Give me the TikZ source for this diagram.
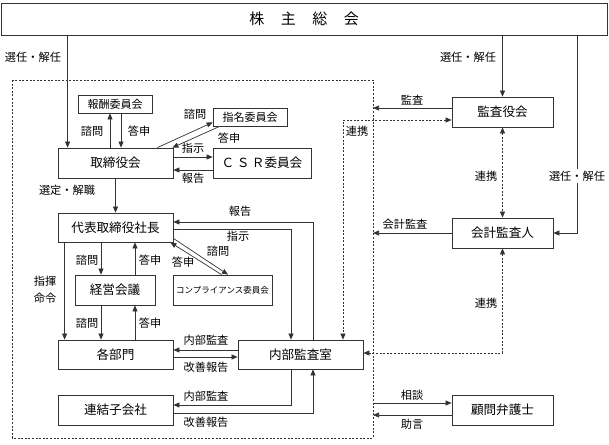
\documentclass[tikz,border=0pt]{standalone}
\usepackage{fontspec}
\setmainfont{Noto Sans CJK JP}
\usetikzlibrary{arrows.meta,calc}
\begin{document}
\begin{tikzpicture}[x=1pt,y=-1pt,
  line width=0.7pt, draw=black!80,
  box/.style={draw=black!80, line width=0.8pt, inner sep=0pt, font=\fontsize{12.6}{14}\selectfont},
  smallbox/.style={box, font=\fontsize{11}{12}\selectfont},
  lbl/.style={font=\fontsize{11.2}{12}\selectfont, inner sep=1pt},
  arr/.style={-{Triangle[length=6pt,width=5pt]}},
  darr/.style={{Triangle[length=6pt,width=5pt]}-{Triangle[length=6pt,width=5pt]}, dash pattern=on 2pt off 1.6pt},
  bdash/.style={dash pattern=on 2pt off 1.6pt, line width=0.7pt}
]
\useasboundingbox (0,0) rectangle (609,444);
% boundary dashed
\draw[bdash] (12,80) rectangle (373,438);
\coordinate (bx) at (373,0);
% nodes
\node[box, minimum width=606pt, minimum height=32pt, font=\fontsize{15}{17}\selectfont] (sh) at (304,19) {株\hspace{1.1em}主\hspace{1.1em}総\hspace{1.1em}会};
\node[smallbox, minimum width=74pt, minimum height=18pt] (hoshu) at (115,104) {報酬委員会};
\node[smallbox, minimum width=74pt, minimum height=18pt] (shimei) at (250,117) {指名委員会};
\node[box, minimum width=115pt, minimum height=30pt] (tori) at (115.5,163) {取締役会};
\node[box, minimum width=98pt, minimum height=30pt] (csr) at (262,163) {Ｃ\hspace{0.2em}Ｓ\hspace{0.2em}Ｒ委員会};
\node[box, minimum width=115pt, minimum height=29pt] (daihyo) at (115.5,227.5) {代表取締役社長};
\node[box, minimum width=80pt, minimum height=30pt] (keiei) at (115,290) {経営会議};
\node[box, minimum width=99pt, minimum height=30pt, font=\fontsize{8.5}{10}\selectfont] (comp) at (222.5,290) {コンプライアンス委員会};
\node[box, minimum width=115pt, minimum height=29pt] (kakubu) at (115.5,354.5) {各部門};
\node[box, minimum width=125pt, minimum height=29pt] (naibu) at (300.5,354.5) {内部監査室};
\node[box, minimum width=115pt, minimum height=30pt] (renketsu) at (115.5,410) {連結子会社};
\node[box, minimum width=101pt, minimum height=30pt] (kansa) at (502.5,112) {監査役会};
\node[box, minimum width=101pt, minimum height=30pt] (kaikei) at (502.5,233) {会計監査人};
\node[box, minimum width=101pt, minimum height=30pt] (komon) at (502.5,410) {顧問弁護士};
% shareholders lines
\draw[arr] ([xshift=10pt]tori.north west |- sh.south) -- ([xshift=10pt]tori.north west);
\node[lbl] (l1) at (33,57) {選任・解任};
\draw[arr] (kansa.north |- sh.south) -- (kansa.north);
\node[lbl] (l2) at (468,57) {選任・解任};
\draw[arr] ([xshift=24pt]kaikei.east |- sh.south) |- (kaikei.east);
\node[lbl, fill=white, inner sep=2pt] (l3) at (577,176) {選任・解任};
% hoshu
\draw[arr] ([xshift=-5.5pt]tori.north) -- ([xshift=-5.5pt]tori.north |- hoshu.south);
\draw[arr] ([xshift=5.5pt]tori.north |- hoshu.south) -- ([xshift=5.5pt]tori.north);
\node[lbl] (l4) at (92,131) {諮問};
\node[lbl] (l5) at (139,131) {答申};
% shimei
\draw[arr] ([xshift=-16pt]tori.north east) -- ([yshift=4pt]shimei.south west);
\draw[arr] ([xshift=7pt]shimei.south west) -- ([xshift=-1pt]tori.north east);
\node[lbl] (l6) at (195,114) {諮問};
\node[lbl] (l7) at (229,138) {答申};
% csr
\draw[arr] ([yshift=6pt]tori.east) -- ([yshift=6pt]tori.east -| csr.west);
\draw[arr] ([yshift=-7pt]csr.west) -- ([yshift=-7pt]csr.west -| tori.east);
\node[lbl] (l8) at (193,148) {指示};
\node[lbl] (l9) at (193,178) {報告};
% tori -> daihyo
\draw[arr] (tori.south) -- (daihyo.north);
\node[lbl] (l10) at (67,190) {選定・解職};
% naibu <-> daihyo
\draw[arr] ([xshift=12.5pt]naibu.north) |- ([yshift=5.5pt]daihyo.east);
\node[lbl] (l11) at (240,211) {報告};
\draw[arr] ([yshift=-1.5pt]daihyo.east) -| ([xshift=-9.5pt]naibu.north);
\node[lbl] (l12) at (238,236) {指示};
% compliance
\draw[arr] ([yshift=4pt]daihyo.south east) -- ([xshift=5.5pt]comp.north);
\draw[arr] ([xshift=-1pt]comp.north) -- ([xshift=-3pt]daihyo.south east);
\node[lbl] (l13) at (218,251) {諮問};
\node[lbl] (l14) at (183,262) {答申};
% keiei
\draw[arr] ([xshift=-14pt]keiei.north |- daihyo.south) -- ([xshift=-14pt]keiei.north);
\draw[arr] ([xshift=20pt]keiei.north) -- ([xshift=20pt]keiei.north |- daihyo.south);
\node[lbl] (l15) at (87,260) {諮問};
\node[lbl] (l16) at (150,260) {答申};
\draw[arr] ([xshift=-14pt]keiei.south) -- ([xshift=-14pt]keiei.south |- kakubu.north);
\draw[arr] ([xshift=20pt]keiei.south |- kakubu.north) -- ([xshift=20pt]keiei.south);
\node[lbl] (l17) at (87,323) {諮問};
\node[lbl] (l18) at (150,323) {答申};
% command
\draw[arr] ([xshift=7pt]daihyo.south west) -- ([xshift=7pt]kakubu.north west);
\node[lbl, align=center, font=\fontsize{11.2}{17}\selectfont] (l19) at (45,290) {指揮\\命令};
% kakubu <-> naibu
\draw[arr] ([yshift=4.5pt]naibu.west) -- ([yshift=4.5pt]naibu.west -| kakubu.east);
\draw[arr] ([yshift=-2.5pt]kakubu.east) -- ([yshift=-2.5pt]kakubu.east -| naibu.west);
\node[lbl] (l20) at (206,340) {内部監査};
\node[lbl] (l21) at (206,367) {改善報告};
% renketsu
\draw[arr] ([xshift=-9.5pt]naibu.south) |- ([yshift=5pt]renketsu.east);
\draw[arr] ([yshift=-3pt]renketsu.east) -| ([xshift=12.5pt]naibu.south);
\node[lbl] (l22) at (206,396) {内部監査};
\node[lbl] (l23) at (206,422) {改善報告};
% kansa
\draw[arr] ([yshift=4pt]kansa.west) -- ([yshift=4pt]kansa.west -| bx);
\node[lbl] (l24) at (412,100) {監査};
\draw[darr] ([yshift=-8pt]kansa.west) -| ([xshift=42.5pt]naibu.north);
\node[lbl] (l25) at (357,131) {連携};
\draw[darr] (kansa.south) -- (kaikei.north);
\node[lbl] (l26) at (486,176) {連携};
% kaikei
\draw[arr] (kaikei.west) -- (kaikei.west -| bx);
\node[lbl] (l27) at (405,224) {会計監査};
\draw[darr] (kaikei.south) |- ([yshift=1.5pt]naibu.east);
\node[lbl] (l28) at (486,303) {連携};
% komon
\draw[arr] ([yshift=7pt]komon.west -| bx) -- ([yshift=7pt]komon.west);
\draw[arr] ([yshift=-5pt]komon.west) -- ([yshift=-5pt]komon.west -| bx);
\node[lbl] (l29) at (412,395) {相談};
\node[lbl] (l30) at (412,424) {助言};
\end{tikzpicture}
\end{document}
